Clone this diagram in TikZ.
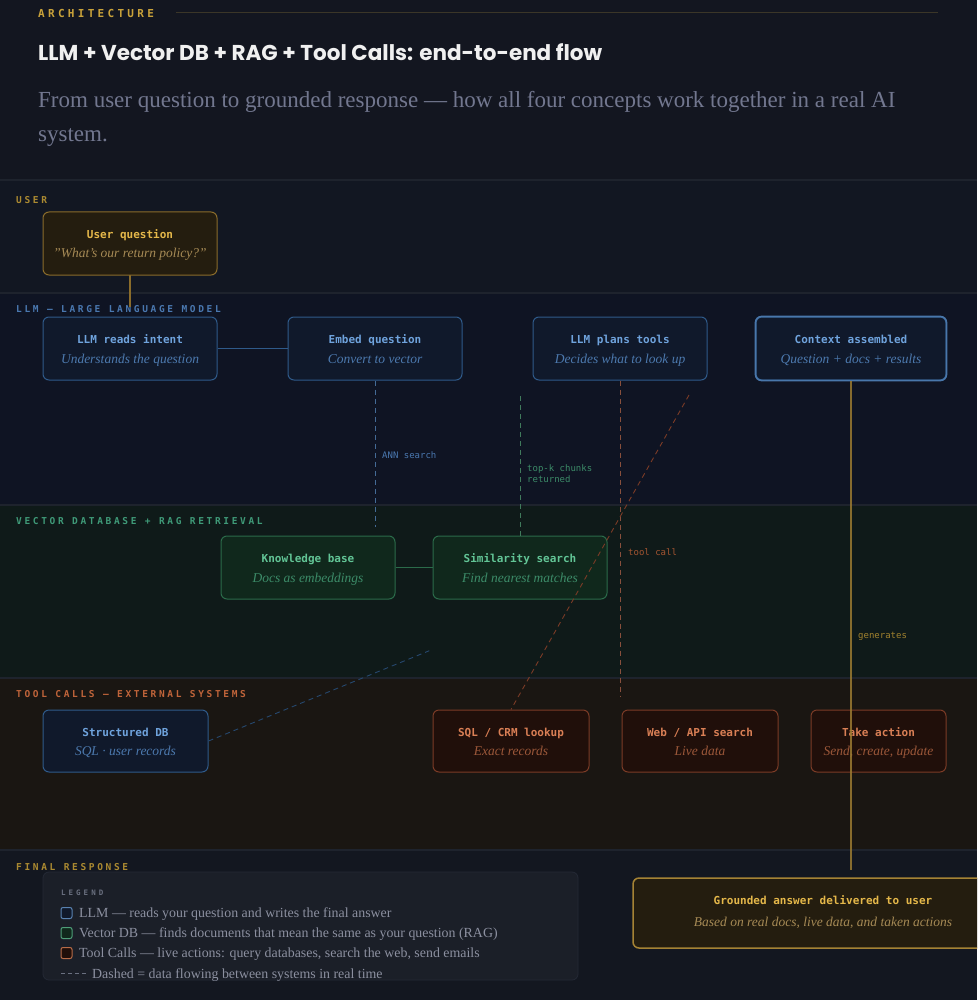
\documentclass[tikz,border=0pt]{standalone}
\usepackage{fontspec}
\setmainfont{Liberation Serif}
\newfontfamily\monof{DejaVu Sans Mono}
\newfontfamily\capsf{DejaVu Sans Mono}[LetterSpace=28]
\newfontfamily\archf{DejaVu Sans Mono}[LetterSpace=30]
\newfontfamily\legf{DejaVu Sans Mono}[LetterSpace=40]
\newfontfamily\titlef{Poppins}
\definecolor{cBg}{HTML}{131620}
\definecolor{cUserBand}{HTML}{121722}
\definecolor{cLlmBand}{HTML}{0F1423}
\definecolor{cVecBand}{HTML}{0F1A19}
\definecolor{cToolBand}{HTML}{1A1612}
\definecolor{cFinBand}{HTML}{131720}
\definecolor{cSep}{HTML}{1E232D}
\definecolor{cGold}{HTML}{C9A23A}
\definecolor{cGoldLine}{HTML}{3B3628}
\definecolor{cSubT}{HTML}{72778F}
\definecolor{cBlueB}{HTML}{2F5A8A}
\definecolor{cBlueF}{HTML}{10192B}
\definecolor{cBlueT}{HTML}{6FA3DD}
\definecolor{cBlueS}{HTML}{4C79AE}
\definecolor{cBlueLab}{HTML}{4A78B0}
\definecolor{cGreenB}{HTML}{2B6B4A}
\definecolor{cGreenF}{HTML}{10281C}
\definecolor{cGreenT}{HTML}{62C596}
\definecolor{cGreenS}{HTML}{3C8B68}
\definecolor{cGreenLab}{HTML}{3F9A78}
\definecolor{cOrB}{HTML}{7B3B26}
\definecolor{cOrF}{HTML}{200F0A}
\definecolor{cOrT}{HTML}{D97F55}
\definecolor{cOrS}{HTML}{9B5739}
\definecolor{cOrLab}{HTML}{C0643A}
\definecolor{cGdB}{HTML}{8A6C2B}
\definecolor{cGdF}{HTML}{241D0F}
\definecolor{cGdT}{HTML}{E5B84A}
\definecolor{cGdS}{HTML}{A68A55}
\definecolor{cLegF}{HTML}{1B1F28}
\definecolor{cLegB}{HTML}{242935}
\definecolor{cLegT}{HTML}{8C90A0}
\definecolor{cLegL}{HTML}{6A7080}

\tikzset{
  ttlfont/.style={font=\monof\bfseries\fontsize{11}{13}\selectfont, inner sep=0pt, anchor=base},
  subfont/.style={font=\itshape\fontsize{13.5}{16}\selectfont, inner sep=0pt, anchor=base},
  bluebox/.style={draw=cBlueB, fill=cBlueF, rounded corners=6pt, line width=1pt, inner sep=0pt},
  bluettl/.style={ttlfont, text=cBlueT},
  bluesub/.style={subfont, text=cBlueS},
  greenbox/.style={draw=cGreenB, fill=cGreenF, rounded corners=6pt, line width=1pt, inner sep=0pt},
  greenttl/.style={ttlfont, text=cGreenT},
  greensub/.style={subfont, text=cGreenS},
  orbox/.style={draw=cOrB, fill=cOrF, rounded corners=6pt, line width=1pt, inner sep=0pt},
  orttl/.style={ttlfont, text=cOrT},
  orsub/.style={subfont, text=cOrS},
  gdbox/.style={draw=cGdB, fill=cGdF, rounded corners=6pt, line width=1pt, inner sep=0pt},
  gdttl/.style={ttlfont, text=cGdT},
  gdsub/.style={subfont, text=cGdS},
  seclab/.style={font=\capsf\bfseries\fontsize{9.5}{11}\selectfont, inner sep=0pt, anchor=base west},
  flowlab/.style={font=\monof\fontsize{9}{11}\selectfont, inner sep=0pt, anchor=base west},
  dashlink/.style={line width=1pt, dash pattern=on 5pt off 4pt},
  leglab/.style={font=\fontsize{13.9}{16}\selectfont, text=cLegT, inner sep=0pt, anchor=base west},
  legsq/.style={rounded corners=2pt, line width=1pt, minimum width=11pt, minimum height=11pt, inner sep=0pt},
}

\newcommand\mkbox[8]{%
  \node[#1box, minimum width=#5pt, minimum height=#6pt] (#2) at (#3,#4) {};
  \node[#1ttl] (#2-t) at ([yshift=5pt]#2.center) {#7};
  \node[#1sub] (#2-s) at ([yshift=-14.5pt]#2.center) {#8};}

\begin{document}
\begin{tikzpicture}[x=1pt,y=-1pt]
\useasboundingbox (0,0) rectangle (977,1000);
\clip (0,0) rectangle (977,1000);
% backgrounds
\fill[cBg] (0,0) rectangle (977,180);
\fill[cUserBand] (0,180) rectangle (977,293);
\fill[cLlmBand] (0,293) rectangle (977,505);
\fill[cVecBand] (0,505) rectangle (977,678);
\fill[cToolBand] (0,678) rectangle (977,850);
\fill[cFinBand] (0,850) rectangle (977,1000);
\foreach \yy in {180,293,505,678,850} \draw[cSep, line width=1.2pt] (0,\yy) -- (977,\yy);

% header
\node[font=\archf\bfseries\fontsize{11}{13}\selectfont, text=cGold, inner sep=0pt, anchor=base west] (arch) at (38,17.5) {ARCHITECTURE};
\coordinate (hl1) at (176,13);
\coordinate (hl2) at (938,13);
\draw[cGoldLine, line width=1pt] (hl1) -- (hl2);
\node[font=\titlef\bfseries\fontsize{21.5}{25}\selectfont, text=white!94!black, inner sep=0pt, anchor=base west] (title) at (38,61) {LLM + Vector DB + RAG + Tool Calls: end-to-end flow};
\node[font=\fontsize{23}{27}\selectfont, text=cSubT, inner sep=0pt, anchor=base west] (sub1) at (38,108) {From user question to grounded response — how all four concepts work together in a real AI};
\node[font=\fontsize{23}{27}\selectfont, text=cSubT, inner sep=0pt, anchor=base west] (sub2) at (38,142) {system.};

% section labels
\node[seclab, text=cGold!85!black] (lu) at (16,203.5) {USER};
\node[seclab, text=cBlueLab] (ll) at (16,312.5) {LLM — LARGE LANGUAGE MODEL};
\node[seclab, text=cGreenLab] (lv) at (16,524.5) {VECTOR DATABASE + RAG RETRIEVAL};
\node[seclab, text=cOrLab] (lt) at (16,697.5) {TOOL CALLS — EXTERNAL SYSTEMS};
\node[seclab, text=cGold!85!black] (lf) at (16,870.5) {FINAL RESPONSE};

% connectors behind boxes
\coordinate (uqend) at (130,307);
\draw[cGdB, line width=1.3pt] (130,275) -- (uqend);

\coordinate (annend) at (375,527);
\coordinate (topkstart) at (520,396);
\coordinate (toolend) at (620,697);
\coordinate (diagostart) at (689,395);
\coordinate (diagbend) at (429.3,650.7);
\coordinate (genend) at (851,870);

% boxes
\mkbox{gd}{uq}{130}{243.5}{174}{63}{User question}{"What's our return policy?"}
\mkbox{blue}{reads}{130}{348.5}{174}{63}{LLM reads intent}{Understands the question}
\mkbox{blue}{embed}{375}{348.5}{174}{63}{Embed question}{Convert to vector}
\mkbox{blue}{plans}{620}{348.5}{174}{63}{LLM plans tools}{Decides what to look up}
\mkbox{blue}{ctx}{851}{348.5}{190}{63}{Context assembled}{Question + docs + results}
\draw[draw=cBlueB!60!cBlueT, line width=1.6pt, rounded corners=6pt] (ctx.south west) rectangle (ctx.north east);
\mkbox{green}{kb}{308}{567.5}{174}{63}{Knowledge base}{Docs as embeddings}
\mkbox{green}{sim}{520}{567.5}{174}{63}{Similarity search}{Find nearest matches}
\mkbox{blue}{sdb}{125.5}{741}{165}{62}{Structured DB}{SQL · user records}
\mkbox{or}{sql}{511}{741}{156}{62}{SQL / CRM lookup}{Exact records}
\mkbox{or}{web}{700}{741}{156}{62}{Web / API search}{Live data}
\mkbox{or}{take}{878.5}{741}{135}{62}{Take action}{Send, create, update}

% solid links
\draw[cBlueB, line width=1.3pt] (reads.east) -- (embed.west);
\draw[cGreenB, line width=1.3pt] (kb.east) -- (sim.west);

% dashed links
\draw[dashlink, color=cBlueB!90!white] (embed.south) -- (annend);
\node[flowlab, text=cBlueLab] (annlab) at (382,458.5) {ANN search};
\draw[dashlink, color=cGreenB!90!white] (topkstart) -- (sim.north);
\node[flowlab, text=cGreenS] (topklab) at (527,471.5) {top-k chunks};
\node[flowlab, text=cGreenS] (topklab2) at (527,482.5) {returned};
\draw[dashlink, color=cOrB!90!white] (plans.south) -- (toolend);
\node[flowlab, text=cOrLab!85!black] (toollab) at (628,555.5) {tool call};
\draw[dashlink, color=cOrB, line width=0.9pt] (diagostart) -- (sql.north);
\draw[dashlink, color=cBlueB!80!black, line width=0.9pt] (sdb.east) -- (diagbend);

% generates
\draw[color=cGdB!80!cGdT, line width=1.3pt, opacity=0.85] (ctx.south) -- (genend);
\node[flowlab, text=cGold!80!black] (genlab) at (858,638.5) {generates};

% final answer
\node[gdbox, draw=cGdB!70!cGdT, line width=1.5pt, minimum width=380pt, minimum height=70pt] (ans) at (823,913) {};
\node[gdttl] (ans-t) at ([yshift=9pt]ans.center) {Grounded answer delivered to user};
\node[gdsub] (ans-s) at ([yshift=-13pt]ans.center) {Based on real docs, live data, and taken actions};

% legend
\node[draw=cLegB, fill=cLegF, rounded corners=6pt, line width=0.8pt, minimum width=535pt, minimum height=108pt, inner sep=0pt] (leg) at (310.5,926) {};
\node[font=\legf\bfseries\fontsize{7.5}{9}\selectfont, text=cLegL, inner sep=0pt, anchor=base west] (legt) at (61,895) {LEGEND};
\node[legsq, draw=cBlueT!80!black, fill=cBlueF] (sq1) at (66.5,913) {};
\node[leglab] (lg1) at (79,917.5) {LLM — reads your question and writes the final answer};
\node[legsq, draw=cGreenT!80!black, fill=cGreenF] (sq2) at (66.5,933) {};
\node[leglab] (lg2) at (79,937.5) {Vector DB — finds documents that mean the same as your question (RAG)};
\node[legsq, draw=cOrT!85!black, fill=cOrF] (sq3) at (66.5,953) {};
\node[leglab] (lg3) at (79,957.5) {Tool Calls — live actions: query databases, search the web, send emails};
\coordinate (ld1) at (61,973.5);
\coordinate (ld2) at (87,973.5);
\draw[cLegL, line width=1pt, dash pattern=on 4pt off 3pt] (ld1) -- (ld2);
\node[leglab] (lg4) at (92,978) {Dashed = data flowing between systems in real time};
\end{tikzpicture}
\end{document}
